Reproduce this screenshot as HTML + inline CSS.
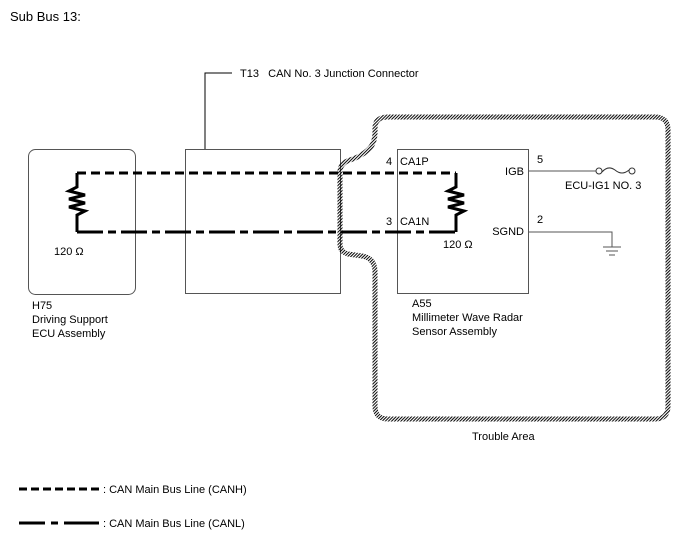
<!DOCTYPE html>
<html><head><style>
html,body{margin:0;padding:0;background:#fff;}
svg{display:block;}
text{font-family:"Liberation Sans",sans-serif;font-size:11px;fill:#000;}
</style></head><body>
<svg width="688" height="560" viewBox="0 0 688 560" xmlns="http://www.w3.org/2000/svg">
<defs>
<pattern id="h" width="2.2" height="2.2" patternUnits="userSpaceOnUse" patternTransform="rotate(45)">
<rect width="1" height="2.2" fill="#000"/>
</pattern>
</defs>
<text x="10" y="21" style="font-size:13px">Sub Bus 13:</text>
<path d="M205,149 V73 H232" fill="none" stroke="#000" stroke-width="1"/>
<text x="240" y="77">T13&#160;&#160;&#160;CAN No. 3 Junction Connector</text>
<rect x="28.5" y="149.5" width="107" height="145" rx="7" fill="none" stroke="#555" stroke-width="1"/>
<rect x="185.5" y="149.5" width="155" height="144" fill="none" stroke="#555" stroke-width="1"/>
<rect x="397.5" y="149.5" width="131" height="144" fill="none" stroke="#555" stroke-width="1"/>
<path d="M388,117 H655 Q668,117 668,130 V406 Q668,419 655,419 H388 Q375,419 375,406 V272 Q375,258 362,256 L348,254 Q340,252 340,244 V172 Q340,163 350,160 Q360,157 368,150 Q375,144 375,132 V128 Q375,117 388,117 Z" fill="none" stroke="url(#h)" stroke-width="5"/>
<path d="M77,173 H456" fill="none" stroke="#000" stroke-width="3" stroke-dasharray="9 5"/>
<path d="M77,232 H456" fill="none" stroke="#000" stroke-width="3" stroke-dasharray="26 5 8 5"/>
<path d="M77,173 V187 L69,191 L85,195 L69,199 L85,203 L69,207 L85,211 L77,215 V232" fill="none" stroke="#000" stroke-width="3"/>
<text x="54" y="255">120 Ω</text>
<path d="M456,173 V187 L448,191 L464,195 L448,199 L464,203 L448,207 L464,211 L456,215 V232" fill="none" stroke="#000" stroke-width="3"/>
<text x="443" y="248">120 Ω</text>
<text x="386" y="165">4</text><text x="400" y="165">CA1P</text>
<text x="386" y="225">3</text><text x="400" y="225">CA1N</text>
<text x="524" y="175" text-anchor="end">IGB</text>
<text x="524" y="235" text-anchor="end">SGND</text>
<text x="537" y="163">5</text>
<text x="537" y="223">2</text>
<path d="M529,171 H596" stroke="#555" stroke-width="1" fill="none"/>
<circle cx="599" cy="171" r="3" fill="#fff" stroke="#333"/>
<circle cx="632" cy="171" r="3" fill="#fff" stroke="#333"/>
<path d="M602,172 Q608,165 615,170 Q622,176 629,170" fill="none" stroke="#333"/>
<text x="565" y="189">ECU-IG1 NO. 3</text>
<path d="M529,232 H612 V247 M603,247 H621 M606,251 H618 M609,255 H615" stroke="#555" stroke-width="1" fill="none"/>
<text x="32" y="309">H75</text>
<text x="32" y="323">Driving Support</text>
<text x="32" y="337">ECU Assembly</text>
<text x="412" y="307">A55</text>
<text x="412" y="321">Millimeter Wave Radar</text>
<text x="412" y="335">Sensor Assembly</text>
<text x="472" y="440">Trouble Area</text>
<path d="M19,489 H99" stroke="#000" stroke-width="3" stroke-dasharray="8 4"/>
<text x="103" y="493">: CAN Main Bus Line (CANH)</text>
<path d="M19,523 H45 M51,523 H58 M64,523 H99" stroke="#000" stroke-width="3"/>
<text x="103" y="527">: CAN Main Bus Line (CANL)</text>
</svg>
</body></html>
